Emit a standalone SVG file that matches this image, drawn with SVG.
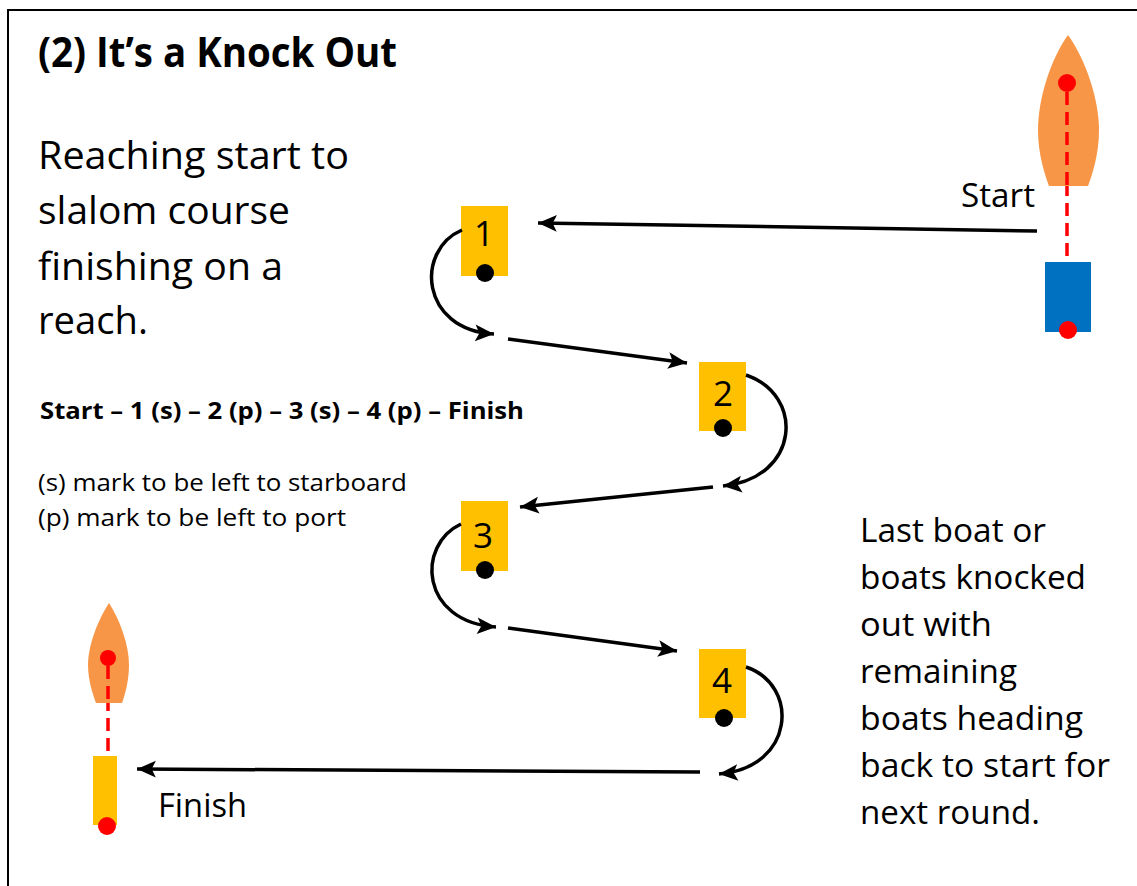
<svg xmlns="http://www.w3.org/2000/svg" width="1137" height="886" viewBox="0 0 1137 886">
<defs>
<style>
.t{font-family:"Open Sans","Noto Sans","Liberation Sans",sans-serif;fill:#000}
.b{font-weight:bold}
.mark{fill:#FFC000}
.dot{fill:#000}
.rdot{fill:#FF0000}
.hull{fill:#F79646}
.dash{stroke:#FF0000;stroke-width:3.5;stroke-dasharray:13 7;fill:none}
.con{stroke:#000;stroke-width:3.5;fill:none;marker-end:url(#ah)}
.num{font-size:35px;text-anchor:middle}
</style>
<marker id="ah" markerUnits="userSpaceOnUse" markerWidth="22" markerHeight="22" viewBox="-19 -10 21 20" refX="0" refY="0" orient="auto">
<path d="M0,0 L-18,-8 L-14,0 L-18,8 Z" fill="#000"/>
</marker>
</defs>
<rect x="8" y="10" width="1140" height="900" fill="#fff" stroke="#000" stroke-width="2"/>

<g id="title">
<text class="t b" x="38" y="67" font-size="42" textLength="359" lengthAdjust="spacingAndGlyphs">(2) It’s a Knock Out</text>
</g>

<g id="description">
<text class="t" x="38" y="169" font-size="38" textLength="311" lengthAdjust="spacingAndGlyphs">Reaching start to</text>
<text class="t" x="38" y="224" font-size="38" textLength="252" lengthAdjust="spacingAndGlyphs">slalom course</text>
<text class="t" x="38" y="280" font-size="38" textLength="245" lengthAdjust="spacingAndGlyphs">finishing on a</text>
<text class="t" x="38" y="334" font-size="38" textLength="110" lengthAdjust="spacingAndGlyphs">reach.</text>
</g>

<g id="sequence">
<text class="t b" x="40" y="419" font-size="23.5" textLength="484" lengthAdjust="spacingAndGlyphs">Start – 1 (s) – 2 (p) – 3 (s) – 4 (p) – Finish</text>
<text class="t" x="38" y="491" font-size="23.5" textLength="369" lengthAdjust="spacingAndGlyphs">(s) mark to be left to starboard</text>
<text class="t" x="38" y="526" font-size="23.5" textLength="308" lengthAdjust="spacingAndGlyphs">(p) mark to be left to port</text>
</g>

<g id="note">
<text class="t" x="860" y="542" font-size="33" textLength="186" lengthAdjust="spacingAndGlyphs">Last boat or</text>
<text class="t" x="860" y="589" font-size="33" textLength="226" lengthAdjust="spacingAndGlyphs">boats knocked</text>
<text class="t" x="860" y="636" font-size="33" textLength="132" lengthAdjust="spacingAndGlyphs">out with</text>
<text class="t" x="860" y="683" font-size="33" textLength="157" lengthAdjust="spacingAndGlyphs">remaining</text>
<text class="t" x="860" y="730" font-size="33" textLength="223" lengthAdjust="spacingAndGlyphs">boats heading</text>
<text class="t" x="860" y="777" font-size="33" textLength="250" lengthAdjust="spacingAndGlyphs">back to start for</text>
<text class="t" x="860" y="824" font-size="33" textLength="180" lengthAdjust="spacingAndGlyphs">next round.</text>
</g>

<g id="start-boat">
<line class="dash" x1="1067" y1="83" x2="1067" y2="262"/>
<path class="hull" d="M1068,35 C1050,60 1038,100 1038,130 C1038,155 1045,175 1049,186 L1088,186 C1092,175 1099,155 1099,130 C1099,100 1086,60 1068,35 Z"/>
<line class="dash" x1="1067" y1="92" x2="1067" y2="186"/>
<circle class="rdot" cx="1067" cy="83" r="9"/>
<rect x="1045" y="262" width="46" height="70" fill="#0070C0"/>
<circle class="rdot" cx="1068" cy="330" r="9"/>
<text class="t" x="961" y="207" font-size="33" textLength="74" lengthAdjust="spacingAndGlyphs">Start</text>
</g>

<g id="finish-boat">
<line class="dash" x1="108" y1="658" x2="108" y2="756"/>
<path class="hull" d="M109,603 C98,620 88,645 88,665 C88,680 93,695 96,703 L122,703 C125,695 129,680 129,665 C129,645 120,620 109,603 Z"/>
<line class="dash" x1="108" y1="666" x2="108" y2="703"/>
<circle class="rdot" cx="108" cy="658" r="8"/>
<rect x="93" y="756" width="24" height="69" fill="#FFC000"/>
<circle class="rdot" cx="107" cy="826" r="9"/>
<text class="t" x="158" y="817" font-size="33" textLength="89" lengthAdjust="spacingAndGlyphs">Finish</text>
</g>

<g id="mark1">
<rect class="mark" x="461" y="206" width="47" height="70"/>
<text class="t num" x="484" y="246">1</text>
<circle class="dot" cx="485" cy="273" r="9"/>
</g>
<g id="mark2">
<rect class="mark" x="699" y="362" width="47" height="69"/>
<text class="t num" x="723" y="406">2</text>
<circle class="dot" cx="723" cy="428" r="9"/>
</g>
<g id="mark3">
<rect class="mark" x="461" y="501" width="47" height="70"/>
<text class="t num" x="483" y="548">3</text>
<circle class="dot" cx="485" cy="570" r="9"/>
</g>
<g id="mark4">
<rect class="mark" x="699" y="649" width="47" height="69"/>
<text class="t num" x="722" y="693">4</text>
<circle class="dot" cx="724" cy="718" r="9"/>
</g>

<g id="connectors">
<path class="con" d="M1037,231 L538,223"/>
<path class="con" d="M462,230 C415,250 420,330 494,334"/>
<path class="con" d="M508,339 L687,363"/>
<path class="con" d="M746,375 C805,395 800,478 723,486"/>
<path class="con" d="M713,487 L520,507"/>
<path class="con" d="M461,524 C416,545 420,622 496,627"/>
<path class="con" d="M508,628 L677,651"/>
<path class="con" d="M746,667 C800,685 795,768 719,774"/>
<path class="con" d="M700,772 L137,769"/>
</g>
</svg>
